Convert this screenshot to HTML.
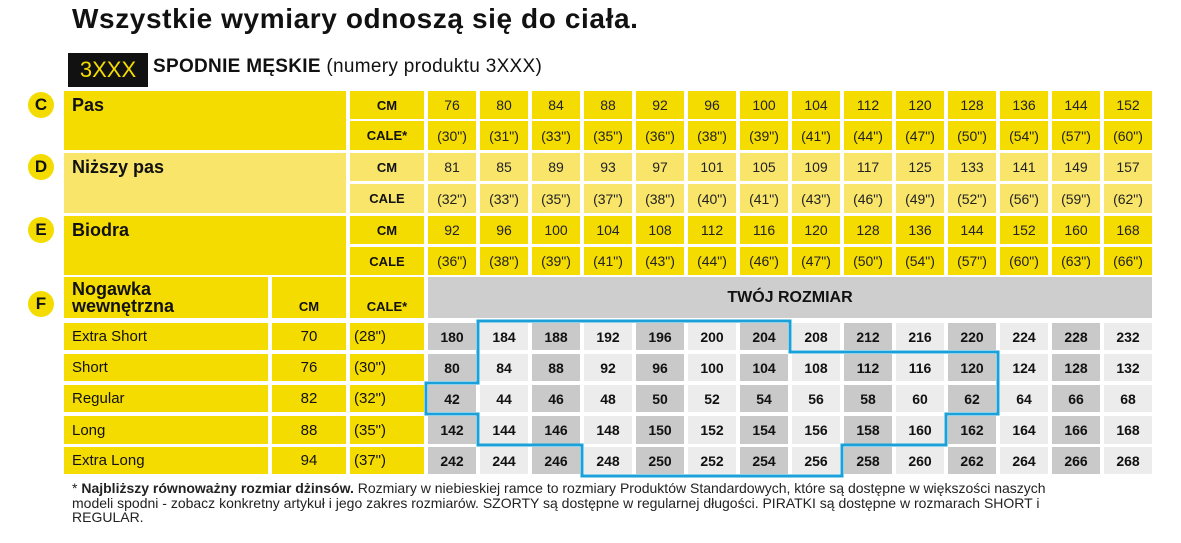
<!DOCTYPE html>
<html><head><meta charset="utf-8"><style>
*{margin:0;padding:0;box-sizing:border-box}
body{width:1181px;height:543px;background:#fff;position:relative;overflow:hidden;font-family:"Liberation Sans","DejaVu Sans",sans-serif;color:#111}
.a{position:absolute}
.row{position:absolute;left:428px;display:flex;gap:4px}
.row div{width:48px;display:flex;align-items:center;justify-content:center;font-size:14px;color:#222}
.y{background:#f5dc00}.ly{background:#f8e56a}
.d .c{font-weight:bold;color:#111}
.g1{background:#c9c9c9}.g2{background:#ececec}
.circ{position:absolute;left:28px;width:26px;height:26px;border-radius:50%;background:#f5dc00;font-weight:bold;font-size:17px;display:flex;align-items:center;justify-content:center}
.lbl{position:absolute;left:64px;width:282px;font-weight:bold;font-size:18px;padding:4px 8px}
.cm{position:absolute;left:350px;width:74px;display:flex;align-items:center;justify-content:center;font-weight:bold;font-size:13px}
.r{position:absolute;font-size:15px;display:flex;align-items:center}
</style></head><body>
<div class="a" style="left:72px;top:3px;font-size:28px;font-weight:bold;letter-spacing:0.6px">Wszystkie wymiary odnoszą się do ciała.</div>
<div class="a" style="left:68px;top:53px;width:80px;height:34px;background:#111;color:#f5dc00;font-size:22px;display:flex;align-items:center;justify-content:center">3XXX</div>
<div class="a" style="left:153px;top:56px;font-size:19px;letter-spacing:0.3px"><b>SPODNIE MĘSKIE</b> (numery produktu 3XXX)</div>

<div class="circ" style="top:92px">C</div>
<div class="lbl y" style="top:91px;height:59px">Pas</div>
<div class="cm y" style="top:91px;height:28px">CM</div>
<div class="cm y" style="top:121px;height:29px">CALE*</div>
<div class="row" style="top:91px;height:28px"><div class="y">76</div><div class="y">80</div><div class="y">84</div><div class="y">88</div><div class="y">92</div><div class="y">96</div><div class="y">100</div><div class="y">104</div><div class="y">112</div><div class="y">120</div><div class="y">128</div><div class="y">136</div><div class="y">144</div><div class="y">152</div></div>
<div class="row" style="top:121px;height:29px"><div class="y">(30")</div><div class="y">(31")</div><div class="y">(33")</div><div class="y">(35")</div><div class="y">(36")</div><div class="y">(38")</div><div class="y">(39")</div><div class="y">(41")</div><div class="y">(44")</div><div class="y">(47")</div><div class="y">(50")</div><div class="y">(54")</div><div class="y">(57")</div><div class="y">(60")</div></div>

<div class="circ" style="top:154px">D</div>
<div class="lbl ly" style="top:153px;height:60px">Niższy pas</div>
<div class="cm ly" style="top:153px;height:28px">CM</div>
<div class="cm ly" style="top:184px;height:29px">CALE</div>
<div class="row" style="top:153px;height:28px"><div class="ly">81</div><div class="ly">85</div><div class="ly">89</div><div class="ly">93</div><div class="ly">97</div><div class="ly">101</div><div class="ly">105</div><div class="ly">109</div><div class="ly">117</div><div class="ly">125</div><div class="ly">133</div><div class="ly">141</div><div class="ly">149</div><div class="ly">157</div></div>
<div class="row" style="top:184px;height:29px"><div class="ly">(32")</div><div class="ly">(33")</div><div class="ly">(35")</div><div class="ly">(37")</div><div class="ly">(38")</div><div class="ly">(40")</div><div class="ly">(41")</div><div class="ly">(43")</div><div class="ly">(46")</div><div class="ly">(49")</div><div class="ly">(52")</div><div class="ly">(56")</div><div class="ly">(59")</div><div class="ly">(62")</div></div>

<div class="circ" style="top:217px">E</div>
<div class="lbl y" style="top:216px;height:59px">Biodra</div>
<div class="cm y" style="top:216px;height:28px">CM</div>
<div class="cm y" style="top:247px;height:28px">CALE</div>
<div class="row" style="top:216px;height:28px"><div class="y">92</div><div class="y">96</div><div class="y">100</div><div class="y">104</div><div class="y">108</div><div class="y">112</div><div class="y">116</div><div class="y">120</div><div class="y">128</div><div class="y">136</div><div class="y">144</div><div class="y">152</div><div class="y">160</div><div class="y">168</div></div>
<div class="row" style="top:247px;height:28px"><div class="y">(36")</div><div class="y">(38")</div><div class="y">(39")</div><div class="y">(41")</div><div class="y">(43")</div><div class="y">(44")</div><div class="y">(46")</div><div class="y">(47")</div><div class="y">(50")</div><div class="y">(54")</div><div class="y">(57")</div><div class="y">(60")</div><div class="y">(63")</div><div class="y">(66")</div></div>

<div class="circ" style="top:291px">F</div>
<div class="a y" style="left:64px;top:277px;width:204px;height:41px;font-weight:bold;font-size:18px;line-height:17px;padding:4px 8px">Nogawka<br>wewnętrzna</div>
<div class="a y" style="left:272px;top:277px;width:74px;height:41px;font-weight:bold;font-size:13px;text-align:center;padding-top:22px">CM</div>
<div class="a y" style="left:350px;top:277px;width:74px;height:41px;font-weight:bold;font-size:13px;text-align:center;padding-top:22px">CALE*</div>
<div class="a" style="left:428px;top:277px;width:724px;height:41px;background:#cecece;font-weight:bold;font-size:16px;text-align:center;padding-top:12px">TWÓJ ROZMIAR</div>

<div class="r y" style="left:64px;top:323px;width:204px;height:27px;padding-left:8px">Extra Short</div>
<div class="r y" style="left:272px;top:323px;width:74px;height:27px;justify-content:center">70</div>
<div class="r y" style="left:350px;top:323px;width:74px;height:27px;padding-left:4px">(28")</div>
<div class="r y" style="left:64px;top:354px;width:204px;height:27px;padding-left:8px">Short</div>
<div class="r y" style="left:272px;top:354px;width:74px;height:27px;justify-content:center">76</div>
<div class="r y" style="left:350px;top:354px;width:74px;height:27px;padding-left:4px">(30")</div>
<div class="r y" style="left:64px;top:385px;width:204px;height:27px;padding-left:8px">Regular</div>
<div class="r y" style="left:272px;top:385px;width:74px;height:27px;justify-content:center">82</div>
<div class="r y" style="left:350px;top:385px;width:74px;height:27px;padding-left:4px">(32")</div>
<div class="r y" style="left:64px;top:416px;width:204px;height:28px;padding-left:8px">Long</div>
<div class="r y" style="left:272px;top:416px;width:74px;height:28px;justify-content:center">88</div>
<div class="r y" style="left:350px;top:416px;width:74px;height:28px;padding-left:4px">(35")</div>
<div class="r y" style="left:64px;top:447px;width:204px;height:27px;padding-left:8px">Extra Long</div>
<div class="r y" style="left:272px;top:447px;width:74px;height:27px;justify-content:center">94</div>
<div class="r y" style="left:350px;top:447px;width:74px;height:27px;padding-left:4px">(37")</div>

<div class="row d" style="top:323px;height:27px"><div class="c g1">180</div><div class="c g2">184</div><div class="c g1">188</div><div class="c g2">192</div><div class="c g1">196</div><div class="c g2">200</div><div class="c g1">204</div><div class="c g2">208</div><div class="c g1">212</div><div class="c g2">216</div><div class="c g1">220</div><div class="c g2">224</div><div class="c g1">228</div><div class="c g2">232</div></div>
<div class="row d" style="top:354px;height:27px"><div class="c g1">80</div><div class="c g2">84</div><div class="c g1">88</div><div class="c g2">92</div><div class="c g1">96</div><div class="c g2">100</div><div class="c g1">104</div><div class="c g2">108</div><div class="c g1">112</div><div class="c g2">116</div><div class="c g1">120</div><div class="c g2">124</div><div class="c g1">128</div><div class="c g2">132</div></div>
<div class="row d" style="top:385px;height:27px"><div class="c g1">42</div><div class="c g2">44</div><div class="c g1">46</div><div class="c g2">48</div><div class="c g1">50</div><div class="c g2">52</div><div class="c g1">54</div><div class="c g2">56</div><div class="c g1">58</div><div class="c g2">60</div><div class="c g1">62</div><div class="c g2">64</div><div class="c g1">66</div><div class="c g2">68</div></div>
<div class="row d" style="top:416px;height:28px"><div class="c g1">142</div><div class="c g2">144</div><div class="c g1">146</div><div class="c g2">148</div><div class="c g1">150</div><div class="c g2">152</div><div class="c g1">154</div><div class="c g2">156</div><div class="c g1">158</div><div class="c g2">160</div><div class="c g1">162</div><div class="c g2">164</div><div class="c g1">166</div><div class="c g2">168</div></div>
<div class="row d" style="top:447px;height:27px"><div class="c g1">242</div><div class="c g2">244</div><div class="c g1">246</div><div class="c g2">248</div><div class="c g1">250</div><div class="c g2">252</div><div class="c g1">254</div><div class="c g2">256</div><div class="c g1">258</div><div class="c g2">260</div><div class="c g1">262</div><div class="c g2">264</div><div class="c g1">266</div><div class="c g2">268</div></div>

<svg class="a" style="left:0;top:0" width="1181" height="543"><path d="M478,321 H790 V352 H998 V414 H946 V445 H842 V476 H582 V445 H478 V414 H426 V383 H478 Z" fill="none" stroke="#1ba1d9" stroke-width="3"/></svg>

<div class="a" style="left:72px;top:481px;width:1010px;font-size:14px;line-height:14.5px;color:#222">* <b>Najbliższy równoważny rozmiar dżinsów.</b> Rozmiary w niebieskiej ramce to rozmiary Produktów Standardowych, które są dostępne w większości naszych modeli spodni - zobacz konkretny artykuł i jego zakres rozmiarów. SZORTY są dostępne w regularnej długości. PIRATKI są dostępne w rozmarach SHORT i REGULAR.</div>
</body></html>
